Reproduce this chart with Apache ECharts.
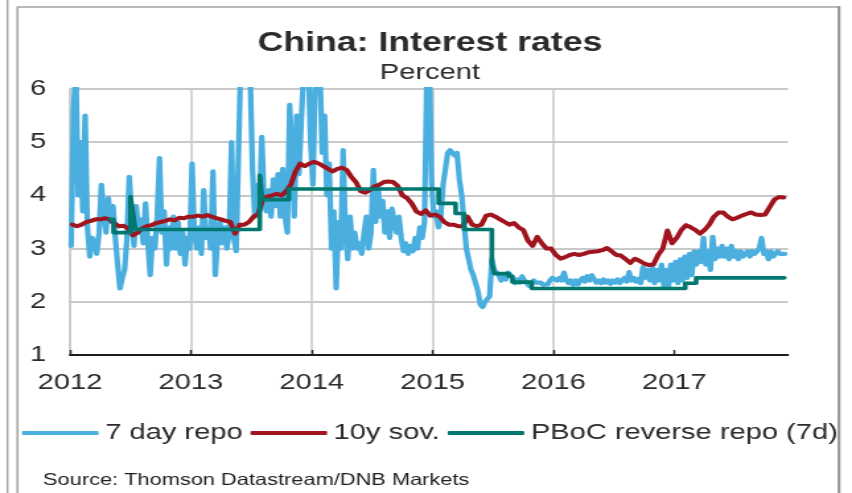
<!DOCTYPE html>
<html>
<head>
<meta charset="utf-8">
<title>China: Interest rates</title>
<script src="https://cdn.jsdelivr.net/npm/echarts@6/dist/echarts.min.js"></script>
<style>
  html, body { margin: 0; padding: 0; background: #fff; overflow: hidden; }
  /* the canvas is laid out narrow and widened horizontally */
  #chart { width: 645px; height: 493px; transform: scaleX(1.3209); transform-origin: 0 0; }
</style>
</head>
<body>
<div id="chart"></div>
<script>
// Year ticks on the time axis
const years = [2012, 2013, 2014, 2015, 2016, 2017];

// 7 day repo rate (%), weekly readings for each calendar year
const repo2012 = [3.05, 5.6, 6.4, 4.0, 5.0, 3.7, 5.5, 3.4, 2.85, 3.2,
  3.1, 2.9, 3.3, 4.2, 3.7, 3.3, 3.95, 3.5, 3.8, 3.2,
  2.7, 2.25, 2.45, 2.6, 3.2, 4.35, 3.6, 3.05, 3.8, 3.3,
  3.55, 3.1, 3.85, 3.1, 2.5, 3.2, 3.0, 3.6, 4.7, 3.3,
  3.7, 2.7, 3.4, 3.0, 3.6, 3.0, 3.5, 2.9, 3.3, 2.7,
  3.2, 3.0];
const repo2013 = [4.6, 3.3, 3.0, 3.4, 2.9, 4.1, 3.2, 3.4, 3.0, 4.45,
  2.5, 3.2, 3.5, 3.1, 3.4, 3.0, 3.3, 5.0, 3.2, 2.95,
  4.8, 6.6, 7.5, 7.5, 6.8, 6.3, 4.5, 3.6, 4.2, 3.7,
  5.1, 3.9, 3.7, 4.1, 3.6, 4.3, 3.8, 4.4, 3.6, 4.5,
  3.6, 3.3, 5.7, 4.8, 3.6, 5.5, 4.4, 5.4, 6.3, 6.8,
  6.5, 5.0];
const repo2014 = [4.2, 6.2, 7.0, 6.4, 4.8, 5.5, 4.0, 4.6, 3.0, 3.7,
  2.25, 3.5, 3.0, 4.85, 3.3, 2.8, 3.6, 3.0, 3.3, 3.0,
  3.1, 2.9, 3.3, 3.6, 3.0, 3.3, 4.48, 3.5, 4.2, 3.6,
  3.9, 3.3, 3.7, 3.2, 3.75, 3.5, 3.3, 3.6, 3.2, 2.95,
  3.1, 2.9, 3.05, 2.95, 3.2, 3.0, 3.4, 3.2, 3.5, 6.3,
  6.8, 4.3];
const repo2015 = [3.6, 3.7, 3.4, 3.6, 4.2, 4.5, 4.8, 4.85, 4.8, 4.75,
  4.8, 4.3, 4.0, 3.5, 3.0, 2.8, 2.6, 2.5, 2.35, 2.2,
  1.95, 1.9, 2.0, 2.05, 2.1, 2.8, 2.6, 2.62, 2.5, 2.4,
  2.5, 2.42, 2.55, 2.5, 2.45, 2.35, 2.42, 2.36, 2.48, 2.4,
  2.35, 2.3, 2.35, 2.4, 2.36, 2.33, 2.36, 2.32, 2.35, 2.33,
  2.4, 2.45];
const repo2016 = [2.45, 2.4, 2.45, 2.4, 2.55, 2.4, 2.35, 2.4, 2.32, 2.4,
  2.33, 2.4, 2.45, 2.38, 2.48, 2.4, 2.5, 2.42, 2.36, 2.4,
  2.35, 2.42, 2.36, 2.4, 2.34, 2.4, 2.36, 2.42, 2.35, 2.4,
  2.45, 2.38, 2.56, 2.4, 2.45, 2.38, 2.43, 2.35, 2.65, 2.45,
  2.6, 2.4, 2.65, 2.35, 2.6, 2.4, 2.7, 2.3, 2.6, 2.3,
  2.7, 2.4];
const repo2017 = [2.75, 2.35, 2.8, 2.4, 2.85, 2.45, 2.9, 2.5, 2.95, 2.7,
  2.95, 2.75, 3.2, 2.7, 2.95, 2.6, 3.22, 2.8, 3.0, 2.85,
  3.05, 2.85, 3.0, 2.8, 3.05, 2.85, 2.95, 2.8, 2.95, 2.85,
  2.9, 2.95, 2.85, 2.95, 2.9, 2.95, 3.0, 3.2, 2.9, 2.95,
  2.8, 2.95, 2.85, 2.9, 2.95, 2.9, 2.92, 2.9];

// 10y government bond yield (%), fortnightly readings for each calendar year
const sov2012 = [3.45, 3.42, 3.45, 3.5, 3.52, 3.55, 3.55, 3.57, 3.55, 3.48, 3.42, 3.43, 3.38,
  3.25, 3.3, 3.38, 3.42, 3.44, 3.48, 3.5, 3.52, 3.55, 3.53, 3.58, 3.57, 3.6];
const sov2013 = [3.6, 3.62, 3.6, 3.63, 3.6, 3.57, 3.55, 3.52, 3.5, 3.28, 3.45, 3.45, 3.5,
  3.6, 3.65, 3.95, 3.98, 4.0, 4.03, 4.0, 4.08, 4.2, 4.45, 4.6, 4.55, 4.6];
const sov2014 = [4.63, 4.6, 4.55, 4.5, 4.45, 4.5, 4.52, 4.48, 4.35, 4.25, 4.08, 4.05, 4.1,
  4.17, 4.2, 4.25, 4.26, 4.25, 4.18, 4.0, 3.95, 3.85, 3.7, 3.65, 3.72, 3.62];
const sov2015 = [3.64, 3.6, 3.5, 3.45, 3.45, 3.42, 3.42, 3.6, 3.45, 3.42, 3.45, 3.62, 3.64,
  3.6, 3.55, 3.5, 3.45, 3.48, 3.4, 3.35, 3.15, 3.05, 3.22, 3.1, 3.0, 3.0];
const sov2016 = [2.88, 2.81, 2.84, 2.88, 2.9, 2.88, 2.9, 2.93, 2.94, 2.95, 2.97, 3.01, 2.95,
  2.88, 2.87, 2.8, 2.73, 2.81, 2.77, 2.72, 2.69, 2.7, 2.88, 3.0, 3.34, 3.1];
const sov2017 = [3.2, 3.35, 3.44, 3.4, 3.35, 3.28, 3.35, 3.45, 3.6, 3.68, 3.68, 3.6,
  3.55, 3.58, 3.62, 3.65, 3.68, 3.64, 3.63, 3.64, 3.78, 3.92, 3.97, 3.96];

// PBoC 7d reverse repo rate: decimal year of each change and the rate set then (%)
const pbocDates = [2012.33, 2012.36, 2012.50, 2012.52, 2012.54, 2013.57, 2013.59, 2013.81,
  2015.05, 2015.19, 2015.26, 2015.49, 2015.51, 2015.63, 2015.66, 2015.82,
  2017.09, 2017.18, 2017.91];
const pbocRates = [3.55, 3.30, 3.98, 3.70, 3.36, 4.38, 3.92, 4.12,
  3.85, 3.66, 3.36, 2.73, 2.53, 2.48, 2.37, 2.25,
  2.35, 2.45, 2.45];

const repoByYear = [repo2012, repo2013, repo2014, repo2015, repo2016, repo2017];
const sovByYear = [sov2012, sov2013, sov2014, sov2015, sov2016, sov2017];

// spread each year's readings evenly across that year
function yearly(byYear, perYear) {
  const out = [];
  years.forEach((y, k) => {
    byYear[k].forEach((v, i) => out.push([y + (i + 0.5) / perYear, v]));
  });
  return out;
}

const repoData = yearly(repoByYear, 52);
const sovData = yearly(sovByYear, 26);
const pbocData = pbocDates.map((d, i) => [d, pbocRates[i]]);

// page x coordinate -> canvas x coordinate (canvas is widened by CSS)
const STRETCH = 852 / 645;
const sx = x => x / STRETCH;

const FONT = '"Liberation Sans", Arial, Helvetica, sans-serif';
const INK = '#2b2b2b';
const GRID = '#c9c9c9';
const FRAME = '#a3a3a3';

const chart = echarts.init(document.getElementById('chart'), null, { renderer: 'canvas' });

chart.setOption({
  animation: false,
  backgroundColor: '#fff',
  textStyle: { fontFamily: FONT },
  title: {
    text: 'China: Interest rates',
    subtext: 'Percent',
    left: sx(430) - 5,
    top: 25,
    textAlign: 'center',
    itemGap: 5,
    textStyle: { fontFamily: FONT, fontSize: 27, fontWeight: 'bold', color: INK },
    subtextStyle: { fontFamily: FONT, fontSize: 22, color: INK }
  },
  legend: {
    data: ['7 day repo', '10y sov.', 'PBoC reverse repo (7d)'],
    left: sx(22),
    top: 422,
    padding: 0,
    icon: 'roundRect',
    itemWidth: 58,
    itemHeight: 4,
    itemGap: 6,
    textStyle: { fontFamily: FONT, fontSize: 22, color: INK }
  },
  grid: {
    left: sx(70),
    right: 645 - sx(788),
    top: 89,
    bottom: 493 - 355,
    containLabel: false,
    outerBoundsMode: 'none'
  },
  xAxis: {
    type: 'value',
    min: 2012,
    max: 2017.94,
    interval: 1,
    axisLine: { show: true, onZero: false, lineStyle: { color: '#1e1e1e', width: 1.8 } },
    axisTick: {
      show: true, inside: true, length: 5,
      customValues: years,
      lineStyle: { color: '#1e1e1e', width: 1.4 }
    },
    axisLabel: {
      customValues: years,
      formatter: v => String(v),
      margin: 17,
      fontFamily: FONT, fontSize: 22, color: INK
    },
    splitLine: {
      show: true, showMinLine: true, showMaxLine: false,
      lineStyle: { color: GRID, width: 1.5 }
    }
  },
  yAxis: {
    type: 'value',
    min: 1,
    max: 6,
    interval: 1,
    axisLine: { show: true, lineStyle: { color: GRID, width: 1.5 } },
    axisTick: { show: false },
    axisLabel: { margin: 18, fontFamily: FONT, fontSize: 22, color: INK },
    splitLine: { show: true, lineStyle: { color: GRID, width: 2 } }
  },
  series: [
    {
      name: '7 day repo',
      type: 'line',
      data: repoData,
      color: '#4aafdf',
      symbol: 'none',
      lineStyle: { color: '#4aafdf', width: 4.2, cap: 'round', join: 'round' },
      z: 2
    },
    {
      name: '10y sov.',
      type: 'line',
      data: sovData,
      color: '#a0141e',
      symbol: 'none',
      lineStyle: { color: '#a0141e', width: 4, cap: 'round', join: 'round' },
      z: 3
    },
    {
      name: 'PBoC reverse repo (7d)',
      type: 'line',
      data: pbocData,
      step: 'end',
      color: '#00776f',
      symbol: 'none',
      lineStyle: { color: '#00776f', width: 3.6, cap: 'round', join: 'round' },
      z: 4
    }
  ],
  graphic: [
    { type: 'line', silent: true, shape: { x1: sx(7.5), y1: 0, x2: sx(7.5), y2: 493 },
      style: { stroke: FRAME, lineWidth: 1.4 } },
    { type: 'polyline', silent: true,
      shape: { points: [[sx(17.5), 493], [sx(17.5), 7], [sx(839), 7]] },
      style: { stroke: FRAME, lineWidth: 1.6, fill: null } },
    { type: 'line', silent: true, shape: { x1: sx(839), y1: 6, x2: sx(839), y2: 493 },
      style: { stroke: '#999', lineWidth: 2.2 } },
    { type: 'text', silent: true, x: sx(43), y: 480,
      style: { text: 'Source: Thomson Datastream/DNB Markets', fontFamily: FONT,
        fontSize: 16.5, fill: '#1e1e1e', verticalAlign: 'middle' } }
  ]
});
</script>
</body>
</html>
